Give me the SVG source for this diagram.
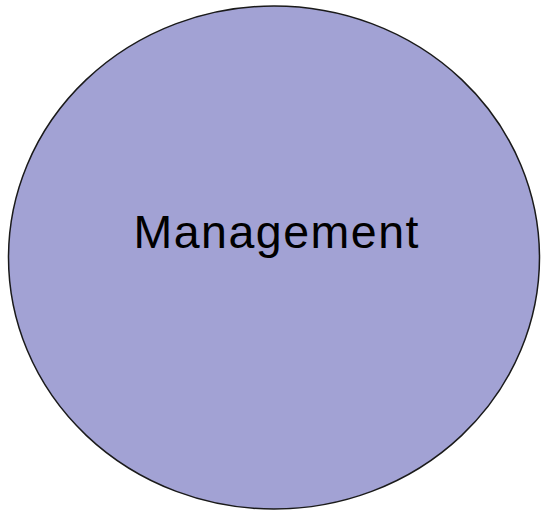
<svg xmlns="http://www.w3.org/2000/svg" width="541" height="511" viewBox="0 0 541 511">
<style>
.node{fill:#a2a2d4;stroke:#1a1a1a;stroke-width:1.5}
.lbl{font-family:"Liberation Sans",Arial,sans-serif;font-size:46.5px;fill:#000;text-anchor:middle}
</style>
<rect width="541" height="511" fill="#fff"/>
<g id="connectors"></g>
<g id="management">
<ellipse class="node" cx="274" cy="257.5" rx="265.5" ry="251.5"/>
<text class="lbl" x="276" y="248" textLength="285" lengthAdjust="spacing">Management</text>
</g>
</svg>
